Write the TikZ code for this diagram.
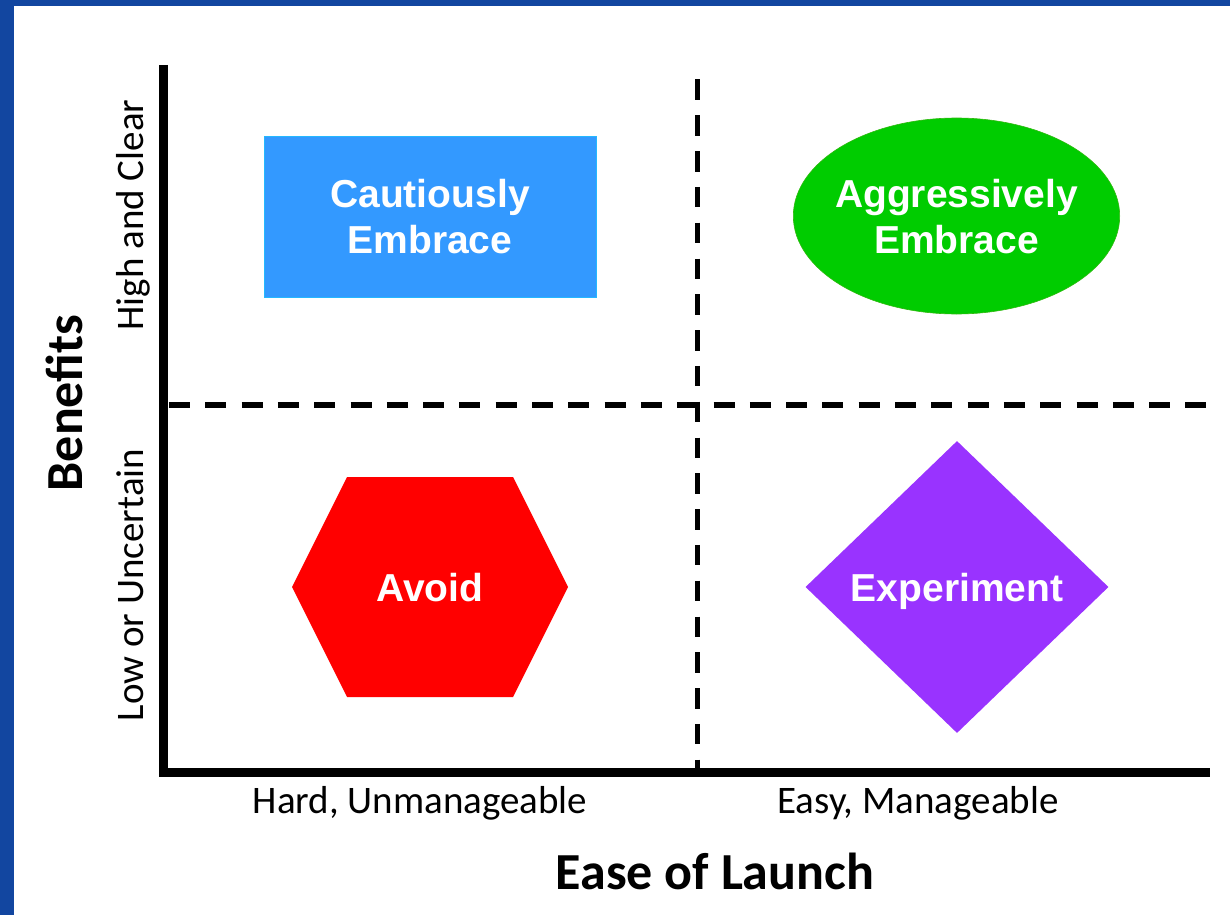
\documentclass[tikz,border=0pt]{standalone}
\usepackage{fontspec}
\setmainfont{Carlito}
\newfontfamily\shapefont{Liberation Sans}
\usetikzlibrary{shapes.geometric}
\definecolor{framebl}{RGB}{18,70,160}
\definecolor{boxbl}{RGB}{51,153,255}
\definecolor{ellgr}{RGB}{0,204,0}
\definecolor{hexrd}{RGB}{255,0,0}
\definecolor{diampu}{RGB}{153,51,255}

\begin{document}
\begin{tikzpicture}[x=1pt,y=-1pt,
  quad node/.style={text=white,font=\shapefont\bfseries\fontsize{39}{46}\selectfont,align=center,inner sep=0pt,text depth=0pt},
  tick label/.style={font=\fontsize{39}{46}\selectfont,anchor=base,inner sep=0pt},
  axis title/.style={font=\bfseries\fontsize{52}{60}\selectfont,anchor=base,inner sep=0pt},
  divider/.style={line width=5.5pt,dash pattern=on 20.5pt off 15.3pt}]

		\useasboundingbox (0,0) rectangle (1230,915);
		\fill[framebl] (0,0) rectangle (14,915);
		\fill[framebl] (0,0) rectangle (1230,6);

		% quadrant dividers
		\coordinate (vtop) at (697.5,79.5);
		\coordinate (vbot) at (697.5,768);
		\coordinate (hleft) at (169,405);
		\coordinate (hright) at (1210,405);
		\draw[divider] (vtop) -- (vbot);
		\draw[divider,dash pattern=on 21pt off 15.3pt] (hleft) -- (hright);

		% axes
		\coordinate (top) at (163.5,65);
		\coordinate (origin) at (163.5,772);
		\coordinate (end) at (1210,772);
		\draw[line width=9pt] (top) -- (origin) -- (end);

		% quadrants
		\node[quad node,rectangle,fill=boxbl,draw=boxbl!70!cyan,minimum width=332pt,minimum height=161pt] (cautious) at (430,216.5) {Cautiously\\Embrace};
		\node[quad node,ellipse,fill=ellgr,draw=ellgr!75!brown,line width=0.6pt,inner xsep=-6pt,minimum width=325pt,minimum height=196pt] (aggressive) at (956.5,216) {Aggressively\\Embrace};
		\fill[hexrd] (292,587) -- (347,477) -- (513,477) -- (568,587) -- (513,697) -- (347,697) -- cycle;
		\node[quad node] (avoid) at (430,587) {Avoid};
		\node[quad node,diamond,fill=diampu,minimum width=303pt,minimum height=292pt] (experiment) at (957,587) {Experiment};

		% axis labels
		\node[tick label] (hard) at (420,813) {Hard, Unmanageable};
		\node[tick label] (easy) at (918,813) {Easy, Manageable};
		\node[tick label,rotate=90] (high) at (143,215) {High and Clear};
		\node[tick label,rotate=90] (low) at (143,585) {Low or Uncertain};
		\node[axis title] (ease) at (715,889) {Ease of Launch};
		\node[axis title,rotate=90] (benefits) at (82,403) {Benefits};
	\end{tikzpicture}
\end{document}
